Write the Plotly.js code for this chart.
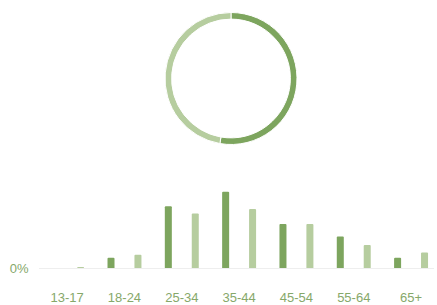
<!DOCTYPE html>
<html>
<head>
<meta charset="utf-8">
<script src="https://cdn.plot.ly/plotly-3.0.1.min.js"></script>
<style>html,body{margin:0;padding:0;background:#fff;}#chart{width:437px;height:305px;}</style>
</head>
<body>
<div id="chart"></div>
<script>
var ageGroups = ["13-17", "18-24", "25-34", "35-44", "45-54", "55-64", "65+"];
var seriesDark = [0, 2.3, 13.9, 17.2, 9.9, 7.1, 2.3];
var seriesLight = [0.25, 3.0, 12.3, 13.3, 9.9, 5.2, 3.5];
var donutLabels = ["Dark group", "Light group"];
var donutValues = [52.7, 47.3];
var yTickVals = [0];
var yTickText = ["0%"];

var W = 437, H = 305;
var darkC = "#7da55e", lightC = "#b6cd9f";
var textC = "#86a86a";

var traces = [
  {
    type: "pie",
    labels: donutLabels,
    values: donutValues,
    sort: false,
    direction: "clockwise",
    rotation: 0,
    hole: 0.9,
    textinfo: "none",
    hoverinfo: "none",
    showlegend: false,
    marker: {colors: [darkC, lightC], line: {color: "#ffffff", width: 1}},
    domain: {x: [165 / W, 297 / W], y: [(H - 145) / H, (H - 12) / H]}
  },
  {
    type: "bar",
    x: ageGroups,
    y: seriesDark,
    marker: {color: darkC, line: {width: 0}, cornerradius: 1},
    hoverinfo: "none",
    showlegend: false
  },
  {
    type: "bar",
    x: ageGroups,
    y: seriesLight,
    marker: {color: lightC, line: {width: 0}, cornerradius: 1},
    hoverinfo: "none",
    showlegend: false
  }
];

var layout = {
  width: W,
  height: H,
  margin: {l: 0, r: 0, t: 0, b: 0},
  paper_bgcolor: "#ffffff",
  plot_bgcolor: "rgba(0,0,0,0)",
  barmode: "group",
  bargap: 0.06,
  bargroupgap: 0.74,
  font: {family: "Liberation Sans, Arial, sans-serif", size: 13, color: textC},
  xaxis: {
    domain: [38.5 / W, 434 / W],
    range: [-0.5, 6.4],
    type: "category",
    showgrid: false,
    showline: false,
    zeroline: false,
    ticks: "",
    ticklabelstandoff: 18,
    tickfont: {size: 13, color: textC},
    fixedrange: true
  },
  yaxis: {
    domain: [(H - 270) / H, (H - 170) / H],
    range: [-0.45, 22.1],
    tickvals: yTickVals,
    ticktext: yTickText,
    showgrid: false,
    zeroline: true,
    zerolinecolor: "#eeeeee",
    zerolinewidth: 1,
    showline: false,
    ticks: "",
    ticklabelstandoff: 9,
    tickfont: {size: 13, color: textC},
    fixedrange: true
  }
};

Plotly.newPlot("chart", traces, layout, {displayModeBar: false, staticPlot: true});
</script>
</body>
</html>
